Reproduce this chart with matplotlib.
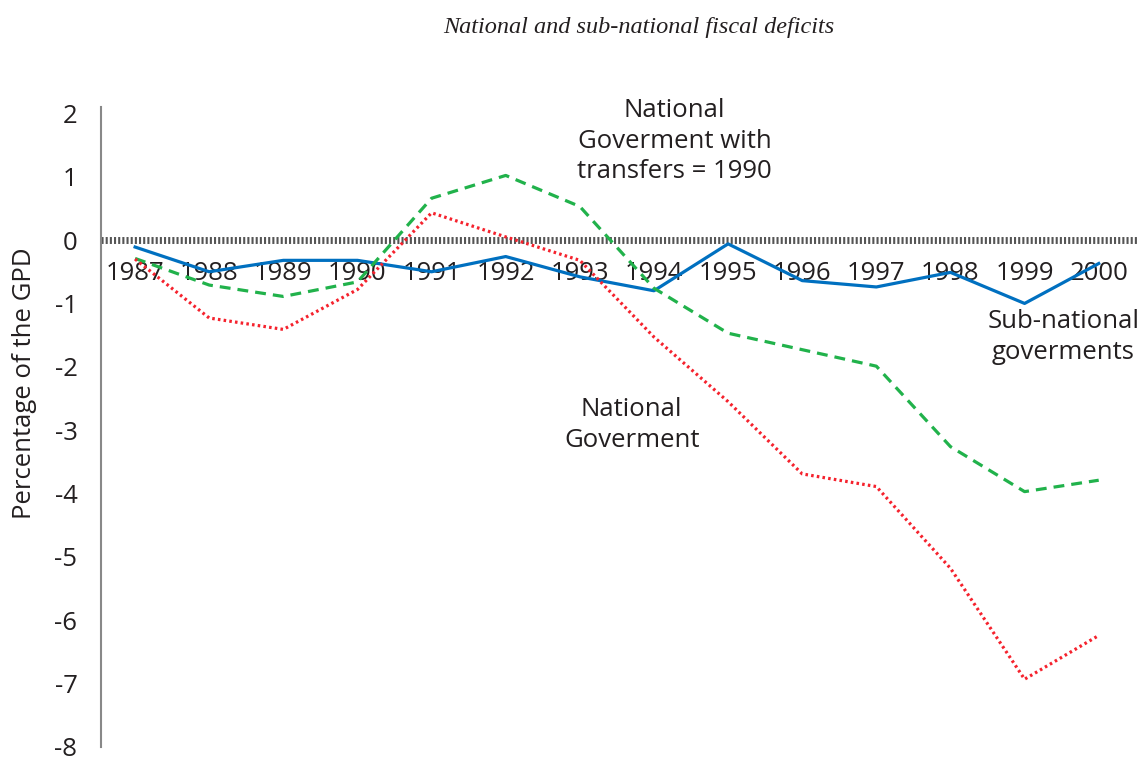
import matplotlib
matplotlib.use("Agg")
import matplotlib.pyplot as plt

years = list(range(1987, 2001))
sub_national = [-0.11, -0.50, -0.32, -0.32, -0.50, -0.26, -0.58, -0.80, -0.06, -0.64, -0.74, -0.51, -1.00, -0.37]
national_transfers = [-0.29, -0.71, -0.89, -0.66, 0.66, 1.02, 0.53, -0.76, -1.47, -1.73, -1.99, -3.26, -3.97, -3.79]
national = [-0.30, -1.23, -1.41, -0.78, 0.43, 0.05, -0.32, -1.53, -2.55, -3.69, -3.89, -5.18, -6.93, -6.24]
y_ticks = list(range(-8, 3))

text_color = "#231F20"
plt.rcParams["font.family"] = ["Open Sans", "DejaVu Sans"]

fig = plt.figure(figsize=(11.42, 7.57), dpi=100)
ax = fig.add_axes([101 / 1142, 10 / 757, 1037 / 1142, 640 / 757])

ax.axhline(0, color="#555555", linewidth=5, linestyle=(0, (0.3, 0.3)), zorder=1)
ax.plot(years, sub_national, color="#0070C0", linewidth=2.3, zorder=3)
ax.plot(years, national_transfers, color="#21B24B", linewidth=2.3,
        linestyle=(0, (3.4, 2.2)), zorder=3)
ax.plot(years, national, color="#F5222D", linewidth=2.3,
        linestyle=(0, (0.8, 1.0)), zorder=3)

ax.set_xlim(1986.54, 2000.53)
ax.set_ylim(-8, 2.1)
ax.set_xticks(years)
ax.set_xticklabels([str(y) for y in years])
ax.set_yticks(y_ticks)
ax.set_yticklabels([str(v) for v in y_ticks])

for s in ["top", "right"]:
    ax.spines[s].set_visible(False)
ax.spines["left"].set_color("#888888")
ax.spines["left"].set_linewidth(1.5)
ax.spines["bottom"].set_position(("data", 0))
ax.spines["bottom"].set_visible(False)
ax.tick_params(axis="x", length=0, pad=15, labelsize=18.5, labelcolor=text_color)
ax.tick_params(axis="y", length=0, pad=17, labelsize=18.5, labelcolor=text_color)

fig.text(25 / 1142, 1 - 383 / 757, "Percentage of the GPD", rotation=90,
         ha="center", va="center", fontsize=18.5, color=text_color)
fig.text(639 / 1142, 1 - 28 / 757, "National and sub-national fiscal deficits",
         ha="center", va="center", fontsize=17.5, style="italic",
         family="Liberation Serif", color=text_color)

ax.text(1994.28, 1.56, "National\nGoverment with\ntransfers = 1990", ha="center", va="center",
        fontsize=18.5, color=text_color, linespacing=1.3)
ax.text(1993.70, -2.92, "National\nGoverment", ha="center", va="center",
        fontsize=18.5, color=text_color, linespacing=1.3)
ax.text(1999.52, -1.53, "Sub-national\ngoverments", ha="center", va="center",
        fontsize=18.5, color=text_color, linespacing=1.3)

fig.savefig("out.png", dpi=100)
